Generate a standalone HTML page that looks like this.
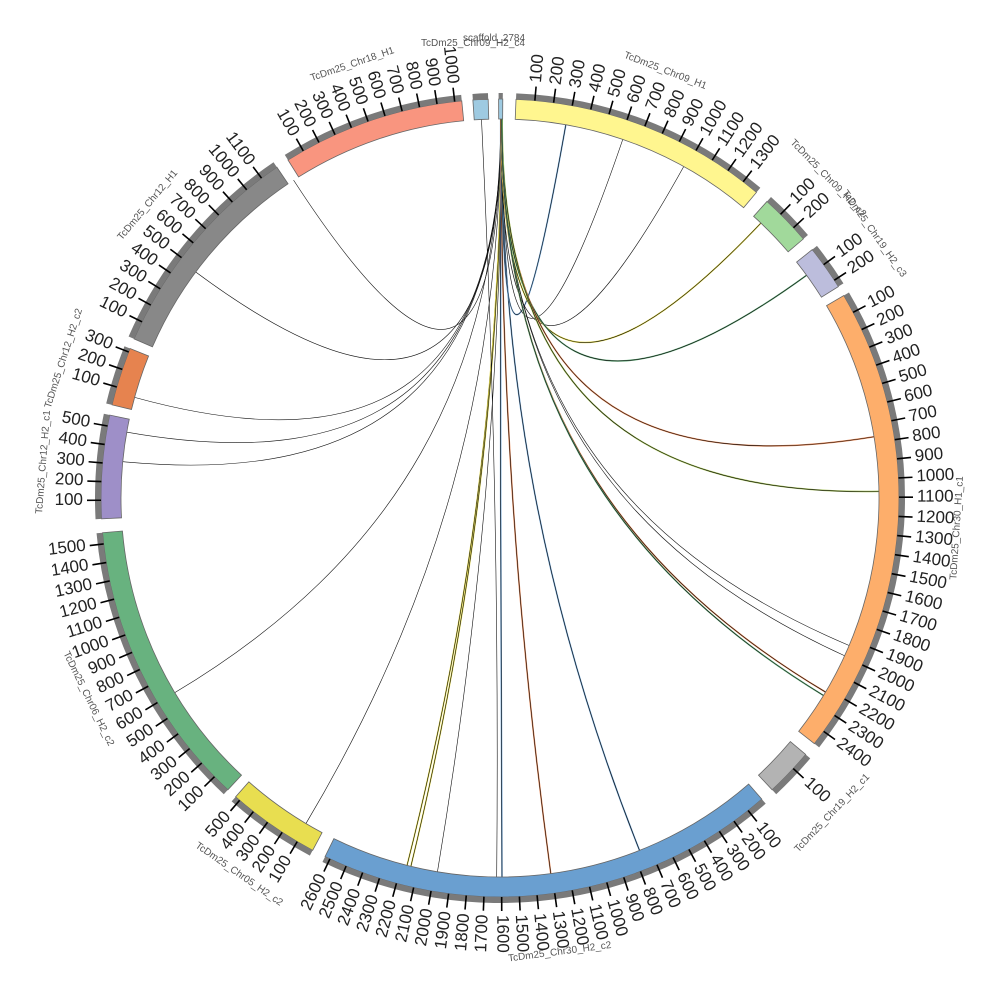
<!DOCTYPE html>
<html><head><meta charset="utf-8"><style>
html,body{margin:0;padding:0;background:#fff;}
svg{display:block;font-family:"Liberation Sans",sans-serif;}
</style></head><body>
<svg id="s" width="1000" height="1000" viewBox="0 0 1000 1000" xmlns="http://www.w3.org/2000/svg">
<text x="473" y="46" font-size="10" fill="#555" text-anchor="middle">TcDm25_Chr09_H2_c4</text>
<text x="494" y="41" font-size="10" fill="#555" text-anchor="middle">scaffold_2784</text>
</svg>
<script>
var S=document.getElementById('s'),NS='http://www.w3.org/2000/svg';
var CX=500,CY=498,R0=379,R1=399;
function P(a,r){var t=a*Math.PI/180;return [CX+r*Math.sin(t),CY-r*Math.cos(t)];}
function el(n,at,txt){var e=document.createElementNS(NS,n);for(var k in at)e.setAttribute(k,at[k]);if(txt!==undefined)e.textContent=txt;S.appendChild(e);return e;}
function arcPath(a0,a1,r0,r1){var p1=P(a0,r1),p2=P(a1,r1),p3=P(a1,r0),p4=P(a0,r0),lg=(a1-a0)>180?1:0;
return 'M'+p1+' A'+r1+','+r1+' 0 '+lg+' 1 '+p2+' L'+p3+' A'+r0+','+r0+' 0 '+lg+' 0 '+p4+'Z';}
var segs=[
[-3.9,-1.7,'#9ecae1','',0,0],
[-0.2,0.4,'#9ecae1','',0,0],
[2.3,40,'#fff68f','TcDm25_Chr09_H1',1390,1300],
[42,49.5,'#a1d99b','TcDm25_Chr09_H2_c2',280,200],
[51.5,58,'#bcbddc','TcDm25_Chr19_H2_c3',240,200],
[59.5,128,'#fdae6b','TcDm25_Chr30_H1_c1',2480,2400],
[130,137,'#b3b3b3','TcDm25_Chr19_H2_c1',260,100],
[139,206,'#6a9fd0','TcDm25_Chr30_H2_c2',2630,2600],
[208,221.5,'#e8de50','TcDm25_Chr05_H2_c2',530,500],
[223,265,'#68b27f','TcDm25_Chr06_H2_c2',1560,1500],
[267,282,'#9e8fc8','TcDm25_Chr12_H2_c1',560,500],
[283.5,292,'#e6834f','TcDm25_Chr12_H2_c2',320,300],
[293.5,326,'#888888','TcDm25_Chr12_H1',1200,1100],
[327.9,354.5,'#f9957f','TcDm25_Chr18_H1',1040,1000]];
var links=[[327,'#000'],[306.6,'#000'],[285.4,'#000'],[280,'#000'],[275.5,'#000'],[239.1,'#000'],[210.8,'#000'],
[194.2,'#e8de50'],[193.6,'#e8de50'],[189.5,'#000'],[179.7,'#6a9fd0'],[172.3,'#e6834f'],[158.4,'#6a9fd0'],
[10,'#6a9fd0'],[18.9,'#000'],[29,'#000'],[43.5,'#e8de50'],[54,'#68b27f'],[80.7,'#e6834f'],[89,'#a1c050'],
[112.9,'#333'],[114.6,'#333'],[120.8,'#e6834f'],[121.4,'#68b27f'],[-2.8,'#000']];
links.forEach(function(l,i){var a,b;if(l[0]==-2.8){a=-2.8;b=180.5;}else{a=0.1+(i%5)*0.06;b=l[0];}
var p0=P(a,R0),c1=P(a,120),c2=P(b,120),p2=P(b,R0);
var d='M'+p0+' C'+c1+' '+c2+' '+p2;
if(l[1]!='#000'&&l[1]!='#333')el('path',{d:d,fill:'none',stroke:l[1],'stroke-width':1.5});
el('path',{d:d,fill:'none',stroke:'#111','stroke-width':0.6});});
segs.forEach(function(g){
el('path',{d:arcPath(g[0],g[1],R0,R1),fill:g[2],stroke:'#666','stroke-width':0.8});
el('path',{d:arcPath(g[0],g[1],R1,R1+6),fill:'#7a7a7a',stroke:'none'});
if(!g[4]){return;}
for(var v=100;v<=g[5];v+=100){var a=g[0]+v*(g[1]-g[0])/g[4];var q1=P(a,R1),q2=P(a,R1+14);
el('line',{x1:q1[0],y1:q1[1],x2:q2[0],y2:q2[1],stroke:'#000','stroke-width':1.6});
var t=P(a,R1+18),rot,anc;if(a<180){rot=a-90;anc='start';}else{rot=a+90;anc='end';}
el('text',{x:t[0],y:t[1],'font-size':17,fill:'#222','text-anchor':anc,'dominant-baseline':'middle',transform:'rotate('+rot+' '+t[0]+' '+t[1]+')'},String(v));}
var m=(g[0]+g[1])/2,n=P(m,458),r2=(m>90&&m<270)?m+180:m;
el('text',{x:n[0],y:n[1],'font-size':10,fill:'#555','text-anchor':'middle','dominant-baseline':'middle',transform:'rotate('+r2+' '+n[0]+' '+n[1]+')'},g[3]);
});
el('rect',{x:473,y:94,width:15,height:6,fill:'#777'});
</script>
</body></html>
